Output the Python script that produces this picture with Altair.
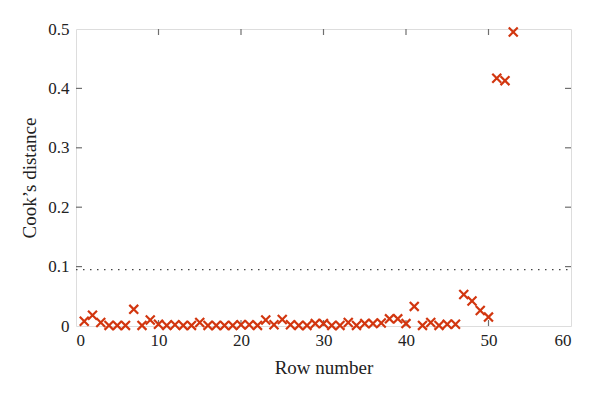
import altair as alt
import pandas as pd

rows = list(range(1, 54))
cooks = [0.008, 0.018, 0.006, 0.001, 0.001, 0.001, 0.028, 0.001, 0.010, 0.003,
         0.001, 0.002, 0.001, 0.001, 0.006, 0.001, 0.001, 0.001, 0.001, 0.002,
         0.002, 0.001, 0.010, 0.002, 0.011, 0.002, 0.001, 0.001, 0.004, 0.004,
         0.001, 0.001, 0.006, 0.001, 0.004, 0.004, 0.005, 0.012, 0.012, 0.004,
         0.033, 0.001, 0.006, 0.001, 0.003, 0.003, 0.053, 0.042, 0.026, 0.015,
         0.417, 0.413, 0.495]
threshold = 0.095
x_ticks = [0, 10, 20, 30, 40, 50, 60]
y_ticks = [0, 0.1, 0.2, 0.3, 0.4, 0.5]

W, H = 495, 297
FONT = "Liberation Serif"
RED = "#d2360f"
GRAY = "#6f6f6f"

df = pd.DataFrame({"row": rows, "d": cooks})
xs = alt.Scale(domain=[0, 60], nice=False)
ys = alt.Scale(domain=[0, 0.5], nice=False)

common = dict(tickSize=0, domain=False, grid=False, labelFont=FONT, titleFont=FONT,
              labelFontSize=17, titleFontSize=19, titleFontWeight="normal",
              labelColor="#222", titleColor="#222")
xaxis = alt.Axis(values=x_ticks, labelPadding=6, title="Row number",
                 titlePadding=10, **common)
yaxis = alt.Axis(values=y_ticks, labelPadding=7, title="Cook’s distance",
                 titlePadding=8, format="~g", **common)

pts = alt.Chart(df).mark_point(
    shape="M-1,-1L1,1M1,-1L-1,1", filled=False, stroke=RED, strokeWidth=2.2, size=80, opacity=1
).encode(
    x=alt.X("row:Q", scale=xs, axis=xaxis),
    y=alt.Y("d:Q", scale=ys, axis=yaxis),
)

thr = alt.Chart(pd.DataFrame({"y": [threshold]})).mark_rule(
    color="#444", strokeDash=[1.5, 5.5], strokeWidth=1.2
).encode(y=alt.Y("y:Q", scale=ys), x=alt.value(0), x2=alt.value(W))

tx = pd.DataFrame({"t": x_ticks[1:-1]})
ty = pd.DataFrame({"t": y_ticks[1:-1]})
tick_b = alt.Chart(tx).mark_rule(color=GRAY, strokeWidth=1.2).encode(
    x=alt.X("t:Q", scale=xs), y=alt.value(H), y2=alt.value(H - 6))
tick_t = alt.Chart(tx).mark_rule(color=GRAY, strokeWidth=1.2).encode(
    x=alt.X("t:Q", scale=xs), y=alt.value(0), y2=alt.value(6))
tick_l = alt.Chart(ty).mark_rule(color=GRAY, strokeWidth=1.2).encode(
    y=alt.Y("t:Q", scale=ys), x=alt.value(0), x2=alt.value(6))
tick_r = alt.Chart(ty).mark_rule(color=GRAY, strokeWidth=1.2).encode(
    y=alt.Y("t:Q", scale=ys), x=alt.value(W), x2=alt.value(W - 6))

chart = alt.layer(thr, tick_b, tick_t, tick_l, tick_r, pts).properties(
    width=W, height=H,
    autosize=alt.AutoSizeParams(type="none"),
    padding={"left": 68, "top": 21, "right": 14, "bottom": 50},
).configure_view(
    stroke=GRAY, strokeWidth=1.6
).configure(
    font=FONT
)

chart.save("out.html", embed_options={"renderer": "svg", "actions": False})
